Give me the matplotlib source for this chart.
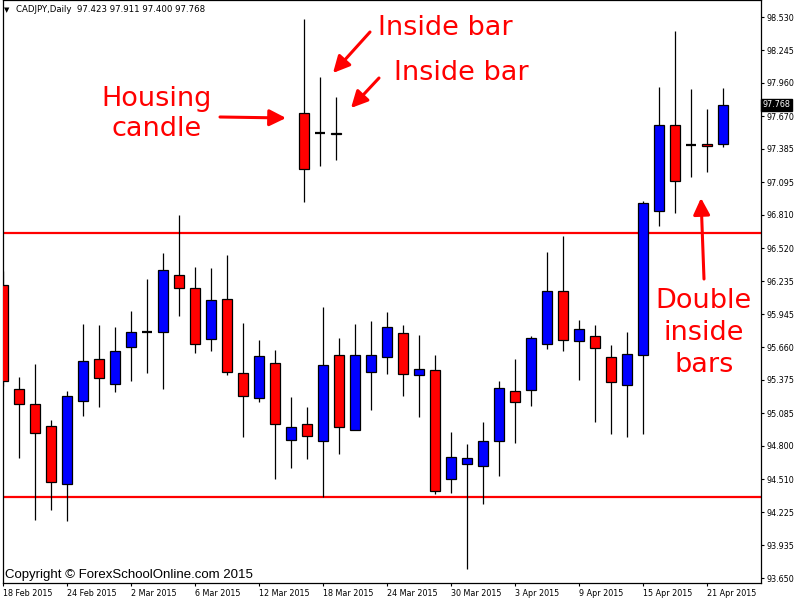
import matplotlib
matplotlib.use('Agg')
import matplotlib.pyplot as plt

# CADJPY daily candles, 18 Feb 2015 - 22 Apr 2015
opens = [96.198, 95.293, 95.163, 94.971, 94.472, 95.189, 95.554, 95.337, 95.658, 95.789,
         95.789, 96.285, 96.172, 95.728, 96.076, 95.432, 95.215, 95.519, 94.849, 94.989,
         94.841, 95.589, 94.936, 95.446, 95.571, 95.780, 95.415, 95.458, 94.510, 94.641,
         94.628, 94.841, 95.276, 95.284, 95.685, 96.146, 95.711, 95.754, 95.571, 95.328,
         95.589, 96.842, 97.590, 97.421, 97.425, 97.423]
highs = [96.322, 95.400, 95.513, 95.026, 95.278, 95.861, 95.853, 95.835, 95.974, 96.253,
         96.479, 96.810, 96.357, 96.348, 96.462, 95.870, 95.722, 95.635, 95.226, 95.139,
         96.009, 95.739, 95.861, 95.887, 95.966, 95.853, 95.766, 95.592, 94.919, 94.817,
         95.009, 95.363, 95.554, 95.754, 96.485, 96.624, 95.893, 95.850, 95.676, 95.789,
         96.929, 97.926, 98.410, 97.906, 97.732, 97.911]
lows = [95.324, 94.698, 94.159, 94.246, 94.150, 95.061, 95.142, 95.272, 95.368, 95.437,
        95.298, 95.933, 95.612, 95.629, 95.420, 94.881, 95.185, 94.515, 94.611, 94.689,
        94.359, 94.733, 94.936, 95.116, 95.429, 95.237, 95.055, 94.380, 94.393, 93.732,
        94.298, 94.541, 94.829, 95.150, 95.641, 95.624, 95.371, 95.006, 94.902, 94.876,
        94.902, 96.716, 96.824, 97.138, 97.186, 97.400]
closes = [95.363, 95.163, 94.910, 94.484, 95.232, 95.537, 95.389, 95.624, 95.789, 95.789,
          96.328, 96.172, 95.685, 96.067, 95.441, 95.232, 95.580, 94.989, 94.963, 94.884,
          95.502, 94.963, 95.589, 95.589, 95.832, 95.424, 95.467, 94.406, 94.702, 94.693,
          94.841, 95.302, 95.180, 95.737, 96.146, 95.719, 95.815, 95.650, 95.354, 95.598,
          96.911, 97.590, 97.103, 97.421, 97.407, 97.768]

# pasted example candles (housing candle + two inside bars)
inset_idx = [18.83, 19.83, 20.83]
inset_open = [97.694, 97.523, 97.525]
inset_high = [98.512, 98.007, 97.834]
inset_low = [96.925, 97.238, 97.291]
inset_close = [97.207, 97.523, 97.515]

levels = [96.656, 94.359]

yticks = [98.530, 98.245, 97.960, 97.670, 97.385, 97.095, 96.810, 96.520, 96.235,
          95.945, 95.660, 95.375, 95.085, 94.800, 94.510, 94.225, 93.935, 93.650]
date_labels = ['18 Feb 2015', '24 Feb 2015', '2 Mar 2015', '6 Mar 2015', '12 Mar 2015',
               '18 Mar 2015', '24 Mar 2015', '30 Mar 2015', '3 Apr 2015', '9 Apr 2015',
               '15 Apr 2015', '21 Apr 2015']

BULL = '#0000ff'
BEAR = '#ff0000'
W = 0.6

fig = plt.figure(figsize=(8, 6), dpi=100)
ax = fig.add_axes([2.7 / 800, 17 / 600, 758 / 800, 583 / 600])


def draw_candles(xs, o, h, l, c):
    ax.vlines(xs, l, h, color='black', lw=0.9, zorder=2)
    for x, op, cl in zip(xs, o, c):
        if op == cl:
            ax.hlines(op, x - W / 2, x + W / 2, color='black', lw=1.6, zorder=3)
        else:
            col = BULL if cl > op else BEAR
            ax.bar(x, abs(cl - op), bottom=min(op, cl), width=W, color=col,
                   edgecolor='black', linewidth=0.9, zorder=3)


draw_candles(list(range(len(opens))), opens, highs, lows, closes)
draw_candles(inset_idx, inset_open, inset_high, inset_low, inset_close)

for lv in levels:
    ax.axhline(lv, color='#ff0000', lw=1.6, zorder=1)

ax.set_xlim(-0.02, 47.36)
ax.set_ylim(93.608, 98.680)

ax.yaxis.tick_right()
ax.set_yticks(yticks)
ax.set_yticklabels(['%.3f' % v for v in yticks])
ax.tick_params(axis='y', direction='out', length=2.5, width=0.8, pad=1.5,
               labelsize=5.8, colors='black')
ax.set_xticks(range(0, 4 * len(date_labels), 4))
ax.set_xticklabels(date_labels, ha='left')
ax.tick_params(axis='x', direction='out', length=2.5, width=0.8, pad=1.5,
               labelsize=5.8)
for sp in ax.spines.values():
    sp.set_linewidth(0.9)

# last price tag
ax.text(1.003, closes[-1], '%.3f' % closes[-1], transform=ax.get_yaxis_transform(),
        ha='left', va='center', color='white', fontsize=5.8, clip_on=False,
        bbox=dict(boxstyle='square,pad=0.2', fc='black', ec='black'))


def px(x, y):
    return x / 800, 1 - y / 600


fig.text(*px(4, 10), '\u25bc', fontsize=5, va='center', ha='left')
fig.text(*px(16, 10), 'CADJPY,Daily  97.423 97.911 97.400 97.768',
         fontsize=6.2, va='center', ha='left')
fig.text(*px(5, 578), 'Copyright \u00a9 ForexSchoolOnline.com 2015',
         fontsize=9.5, va='baseline', ha='left', family='Liberation Sans')

RED = '#ff0000'
fs = 19.5
fig.text(*px(378, 35), 'Inside bar', color=RED, fontsize=fs, va='baseline', ha='left')
fig.text(*px(394, 80), 'Inside bar', color=RED, fontsize=fs, va='baseline', ha='left')
fig.text(*px(157, 106), 'Housing', color=RED, fontsize=fs, va='baseline', ha='center')
fig.text(*px(157, 136), 'candle', color=RED, fontsize=fs, va='baseline', ha='center')
fig.text(*px(704, 308), 'Double', color=RED, fontsize=fs, va='baseline', ha='center')
fig.text(*px(704, 340), 'inside', color=RED, fontsize=fs, va='baseline', ha='center')
fig.text(*px(704, 372), 'bars', color=RED, fontsize=fs, va='baseline', ha='center')

arrows = [((370, 32), (333, 73)), ((379, 78), (351, 108)),
          ((220, 117), (286, 118)), ((704, 279), (701, 198))]
for (sx, sy), (tx, ty) in arrows:
    ax.annotate('', xy=(tx, 600 - ty), xytext=(sx, 600 - sy),
                xycoords='figure pixels', textcoords='figure pixels',
                arrowprops=dict(arrowstyle='-|>,head_length=0.5,head_width=0.25',
                                color=RED, lw=2.2, mutation_scale=20,
                                shrinkA=0, shrinkB=0))

fig.savefig('out.png', dpi=100)
